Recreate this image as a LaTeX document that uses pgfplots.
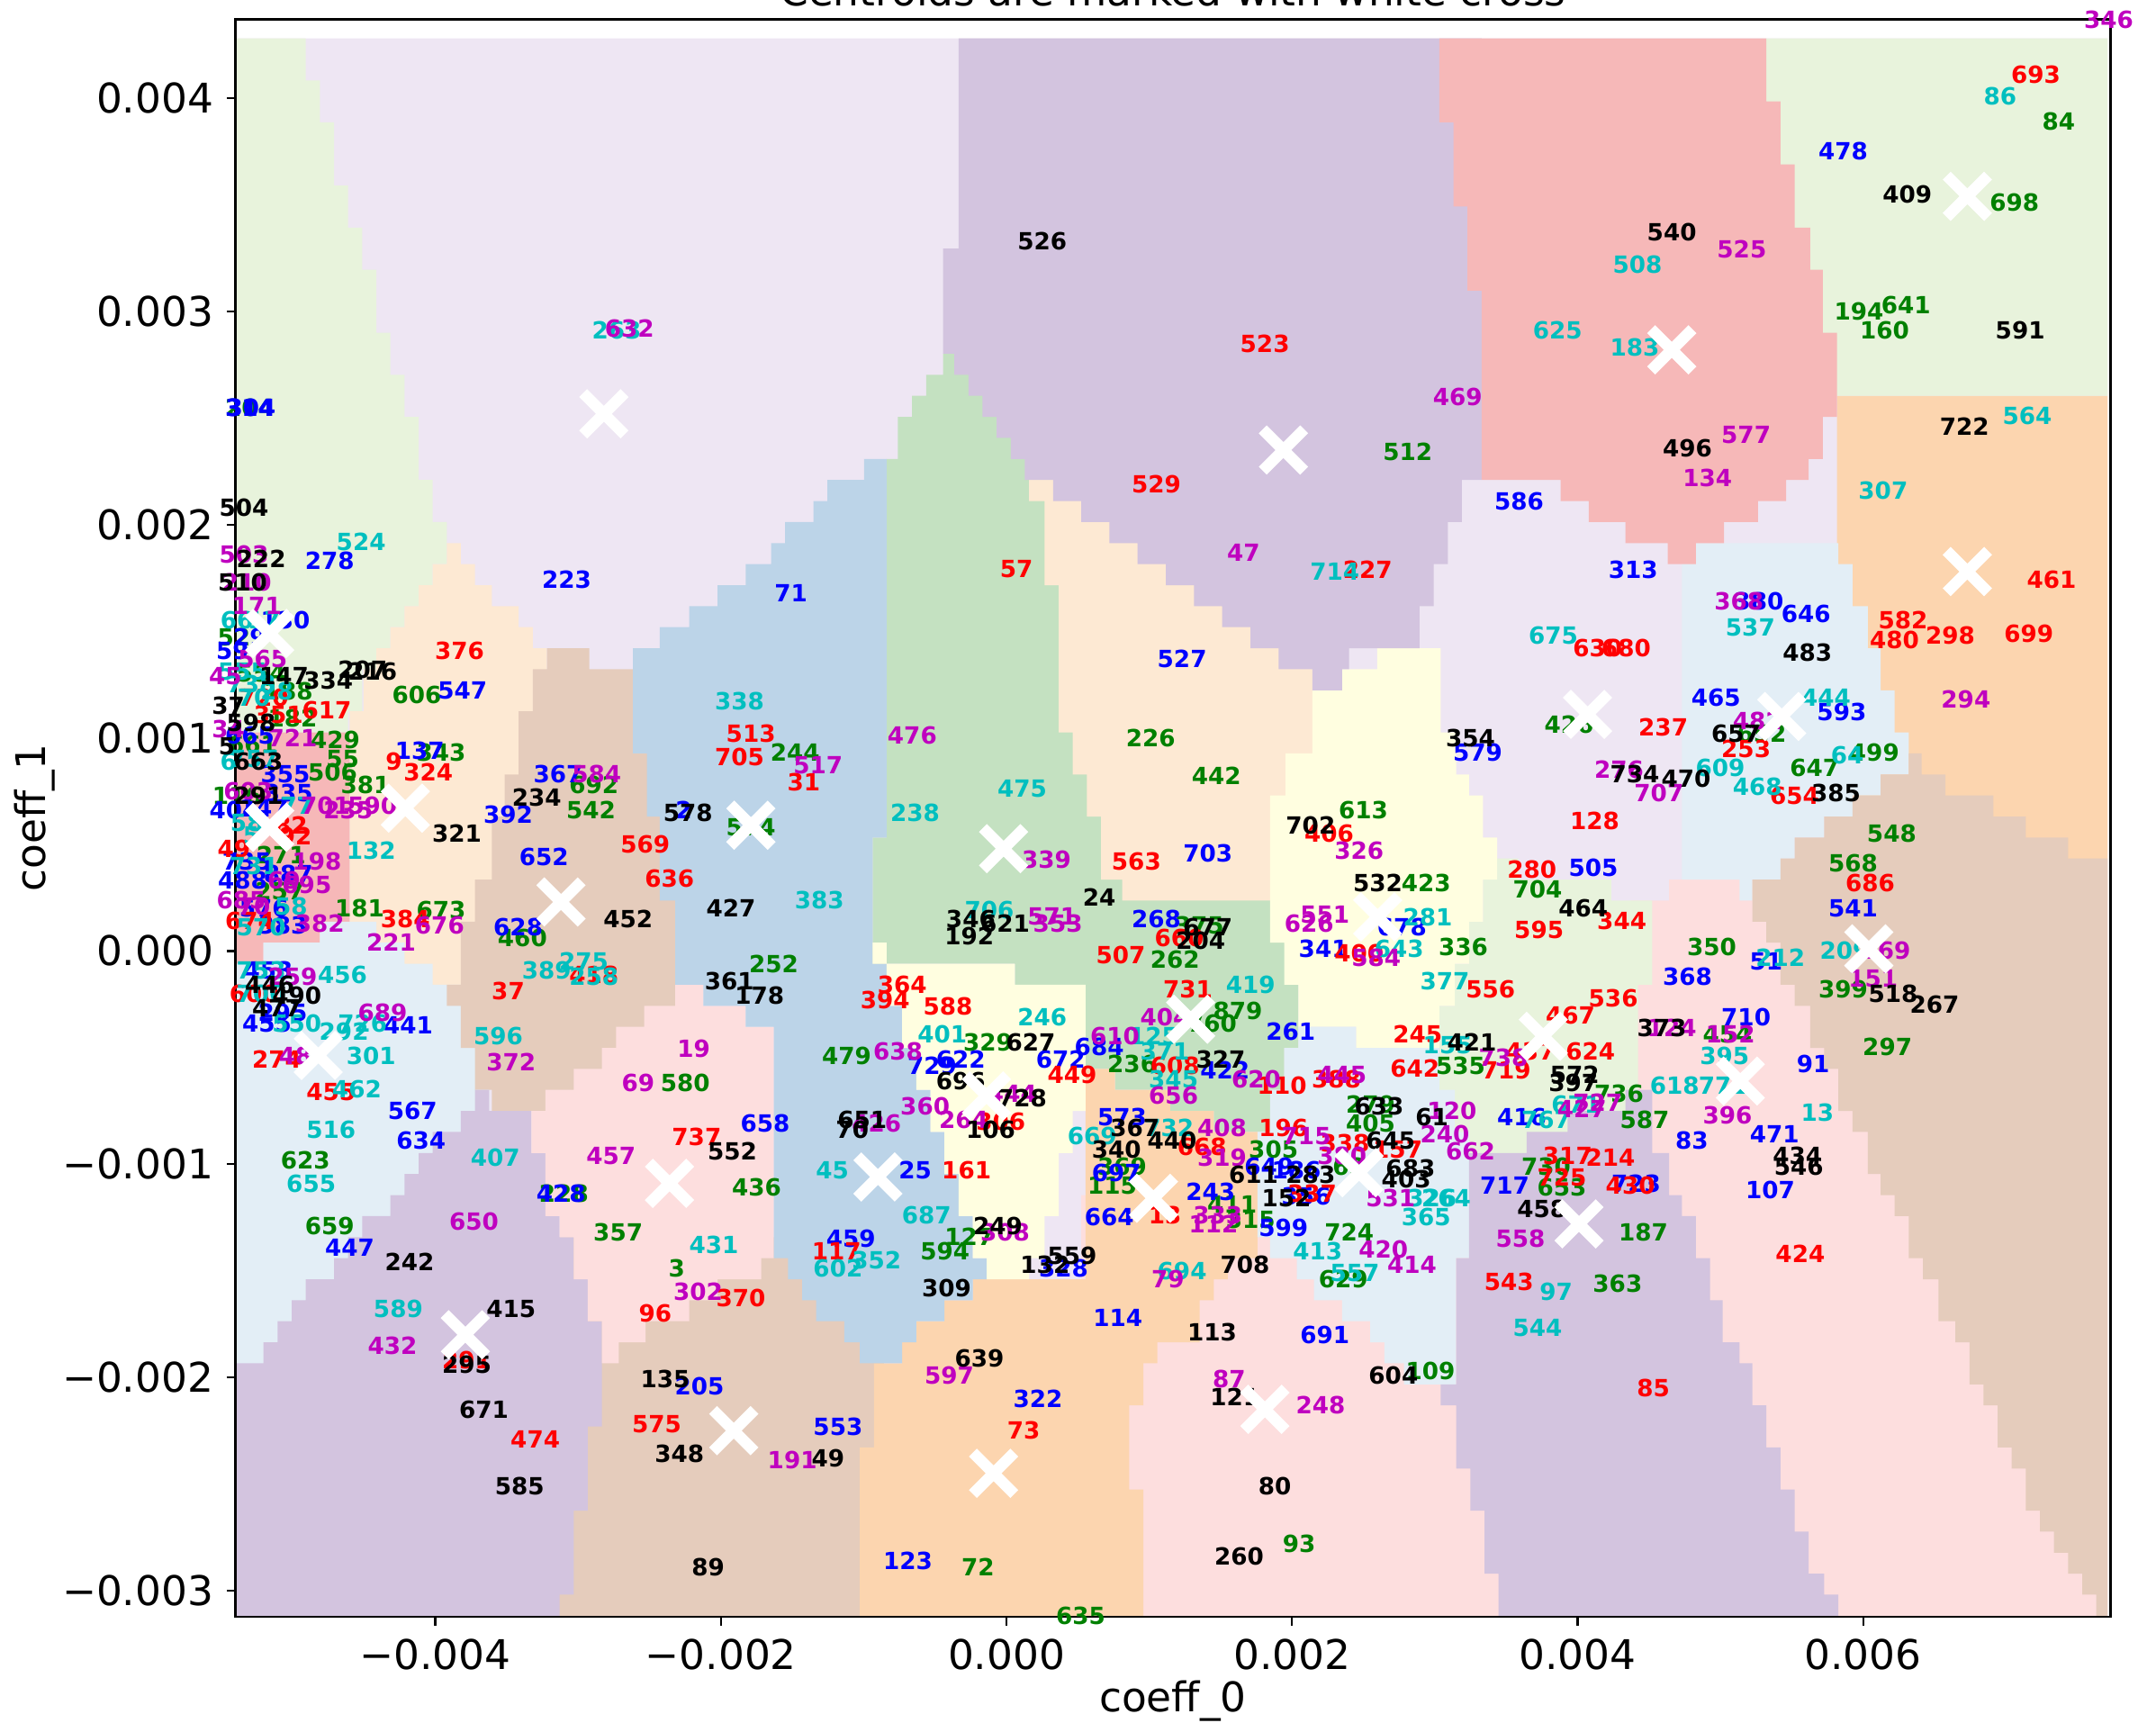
\documentclass[border=0pt]{standalone}
\usepackage{fontspec}
\setmainfont{DejaVu Sans}
\usepackage{pgfplots}
\pgfplotsset{compat=1.18}

\definecolor{cgreen}{HTML}{E8F3DC}
\definecolor{clav}{HTML}{EEE6F3}
\definecolor{cpurple}{HTML}{D3C4DF}
\definecolor{cred}{HTML}{F6B8B8}
\definecolor{cpeach}{HTML}{FCD5AF}
\definecolor{ctan}{HTML}{E5CCBC}
\definecolor{cblue}{HTML}{BCD4E8}
\definecolor{cdgreen}{HTML}{C4E1C1}
\definecolor{ccream}{HTML}{FFFEE0}
\definecolor{cpale}{HTML}{E3EEF6}
\definecolor{clpeach}{HTML}{FDE9D3}
\definecolor{cpink}{HTML}{FDDEDE}
\definecolor{lc}{rgb}{0,0.75,0.75}
\definecolor{lm}{rgb}{0.75,0,0.75}
\definecolor{lg}{rgb}{0,0.5,0}

\newcommand{\labfont}{\fontsize{6.3pt}{6.3pt}\selectfont\bfseries}
\newcommand{\tickfont}{\fontsize{10.9pt}{12pt}\selectfont}

\pgfplotsset{
  reg/.style={const plot,no markers,draw=none,fill=#1,forget plot},
  lab/.style={draw=none,mark=none,forget plot,point meta=explicit symbolic,
    nodes near coords={\pgfplotspointmeta},
    nodes near coords style={anchor=center,inner sep=0pt,text=#1,font=\labfont}},
}

\begin{document}
\begin{tikzpicture}
\path[use as bounding box] (-62.74pt,-28.32pt) rectangle ++(574.8pt,459.36pt);

% decision regions, traced in mesh cells (column, row from the top), painted back to front
\begin{axis}[hide axis,scale only axis,width=499.9pt,height=425.8pt,
  xmin=0,xmax=133,ymin=-0.886,ymax=75.05,y dir=reverse,clip=false]
\addplot[reg=clav] coordinates {(0,0)(132.8,75.05)(0,0)};
\addplot[reg=cpink] coordinates {(101.7,40)(132.8,75.05)(60,55)(99,41)(101.7,40)};
\addplot[reg=cgreen] coordinates {(0,0)(5,2)(6,4)(7,7)(8,9)(9,11)(10,14)(11,16)(12,18)(13,21)(14,23)(15,25)(14,26)(13,27)(12,28)(11,29)(10,30)(9,32)(8,33)(0,0)};
\addplot[reg=clpeach] coordinates {(15,24)(16,25)(17,26)(18.2,27)(20.1,28)(21.1,29)(22.1,45)(8.1,32)(9.1,30)(10,29)(11,28)(12,27)(13,26)(14,25)(15,24)};
\addplot[reg=cred] coordinates {(0,33)(8.1,42)(6,43)(2,44)(0,33)};
\addplot[reg=cpale] coordinates {(0,44)(2,43)(6,42)(10,43)(12,44)(14,45)(18,64)(0,44)};
\addplot[reg=ctan] coordinates {(22.1,29)(25.1,30)(31.2,51)(18.2,50)(17,48)(16,46)(15,45)(16,42)(17,40)(18.2,37)(19.1,35)(20.1,32)(21.1,30)(22.1,29)};
\addplot[reg=ctan] coordinates {(20,57)(46,75.05)(20,57)};
\addplot[reg=cpurple] coordinates {(0,63)(2,62)(3,61)(4,60)(5,59)(7,58)(8,57)(9,56)(11,55)(12,54)(13,53)(14,52)(16,51)(17,50)(18,51)(21,53)(22,56)(23,57)(24,59)(25,61)(26,66)(25,70)(24,74)(23,75.05)(0,63)};
\addplot[reg=cpink] coordinates {(31.2,45)(33.2,46)(36.2,47)(38.2,58)(37.3,59)(34.2,60)(32.2,61)(29.1,62)(27.2,63)(26,61)(25,59)(24,57)(23,56)(22,53)(21,51)(22,50)(24,49)(26,48)(27,47)(29,46)(31.2,45)};
\addplot[reg=cdgreen] coordinates {(46.2,20)(47,18)(48,17)(49,16)(50.2,15)(58,22)(75.4,48)(74.4,50)(73.4,52)(69.4,51)(66.3,50)(62.4,49)(60.3,45)(55.3,44)(45.2,38)(46.2,20)};
\addplot[reg=clpeach] coordinates {(56.3,20)(76.4,41)(62.9,40)(61.4,37)(60.4,35)(59.4,33)(58.4,26)(57.4,22)(56.3,20)};
\addplot[reg=cpeach] coordinates {(60.3,49)(62.4,50)(66.3,51)(69.4,52)(72.5,58)(70.4,59)(69.4,60)(68.4,62)(65.4,63)(64.4,65)(63.4,69)(64.4,75.05)(44.3,67)(45.3,63)(47.3,62)(48.3,61)(50.3,60)(52.3,59)(60.3,49)};
\addplot[reg=cblue] coordinates {(28.2,29)(30.1,28)(32.2,27)(34.2,26)(36.2,25)(38,24)(39,23)(41,22)(42,21)(44.6,20)(46.2,38)(45.2,44)(46.2,46)(47.3,48)(48.3,50)(49.3,52)(50.3,54)(51.3,56)(52.3,58)(53.3,59)(52.3,60)(50.3,61)(48.3,62)(47.3,63)(44.3,62)(43.2,61)(41.2,60)(40.2,59)(39.2,58)(38.2,47)(36.2,46)(33.2,45)(31.2,41)(30.1,37)(29.2,34)(28.2,29)};
\addplot[reg=ccream] coordinates {(46.2,44)(55.3,45)(60.3,51)(59.4,53)(58.4,56)(57.4,58)(56.3,59)(53.3,58)(52.3,56)(51.3,54)(50.3,52)(49.3,50)(48.3,48)(47.3,46)(46.2,44)};
\addplot[reg=ccream] coordinates {(45.2,43)(46.2,44)(45.2,43)};
\addplot[reg=cgreen] coordinates {(89.5,39)(91,40)(97.6,41)(100.5,45)(99.5,54)(85.4,46)(86.5,44)(87.5,42)(88.5,40)(89.5,39)};
\addplot[reg=ccream] coordinates {(73.4,36)(74.5,34)(76.4,31)(78.5,30)(81,29)(85.5,33)(86.6,35)(87.5,36)(88.5,38)(89.5,40)(88.5,42)(87.5,44)(86.5,46)(85.4,48)(79.5,47)(75.4,45)(74.4,43)(73.4,36)};
\addplot[reg=cpale] coordinates {(75.4,47)(79.5,48)(85.4,50)(86.5,52)(87.5,58)(86.6,64)(82.9,63)(81.5,62)(80.5,61)(78.5,60)(76.5,59)(75.3,58)(73.4,57)(72.5,52)(73.4,50)(74.4,48)(75.4,47)};
\addplot[reg=cpurple] coordinates {(87.5,53)(91.6,52)(94.5,51)(98.6,50)(100.5,53)(101.7,55)(102.6,56)(103.6,58)(104.6,60)(105.5,62)(106.7,63)(107.6,65)(108.6,67)(109.6,69)(110.6,71)(111.6,73)(112.7,74)(113.7,75.05)(89.6,73)(88.6,70)(87.6,68)(86.6,65)(85.5,64)(86.6,58)(87.5,53)};
\addplot[reg=cpeach] coordinates {(113.6,17)(132.8,41)(113.6,17)};
\addplot[reg=cgreen] coordinates {(108.6,0)(132.8,17)(108.6,0)};
\addplot[reg=cpale] coordinates {(102.6,24)(113.7,25)(114.7,27)(115.8,29)(116.7,31)(117.7,33)(118.7,35)(116.7,36)(114.7,37)(112.7,38)(110.6,39)(109.6,40)(107.6,41)(106.7,40)(102.6,24)};
\addplot[reg=ctan] coordinates {(107.6,40)(109.6,39)(110.6,38)(112.7,37)(114.7,36)(116.7,35)(118.7,34)(119.6,35)(121.3,36)(124.7,37)(127,38)(130,39)(132.8,75.05)(132,74)(131,73)(130,72)(129,71)(128,70)(127,68)(126,67)(125,65)(124,64)(123,62)(122,61)(120.8,59)(119.7,58)(118.7,56)(117.7,55)(116.7,54)(115.8,52)(114.7,51)(113.7,49)(112.7,48)(111.7,46)(110.6,45)(109.6,43)(108.6,42)(107.6,40)};
\addplot[reg=cpurple] coordinates {(51.3,0)(88.4,21)(87,23)(86,25)(85,27)(84,29)(79,30)(78.5,31)(76.4,30)(74,29)(72,28)(70,27)(68,26)(66,25)(64,24)(62,23)(60,22)(58,21)(56,20)(55,19)(54,18)(53,17)(52,16)(51,15)(50.2,10)(51.3,0)};
\addplot[reg=cred] coordinates {(85.4,0)(108.6,3)(109.6,6)(110.6,9)(111.7,11)(112.6,14)(113.6,18)(112.6,20)(111.6,21)(110,22)(108,23)(105.6,24)(103.6,25)(101.6,24)(98.6,23)(96,22)(94,21)(88.4,12)(87.4,8)(86.4,4)(85.4,0)};
\end{axis}

% coordinates in units of 0.001
\begin{axis}[scale only axis,width=499.9pt,height=425.8pt,clip=false,
  xmin=-5.401,xmax=7.732,ymin=-3.123,ymax=4.369,
  axis line style={line width=0.7pt},
  tick align=outside,tickpos=left,tick style={line width=0.55pt,black},
  major tick length=2.3pt,
  xtick={-4,-2,0,2,4,6},ytick={-3,-2,-1,0,1,2,3,4},
  xticklabels={−0.004,−0.002,0.000,0.002,0.004,0.006},
  yticklabels={−0.003,−0.002,−0.001,0.000,0.001,0.002,0.003,0.004},
  ticklabel style={font=\tickfont},
  xlabel={coeff\_0},ylabel={coeff\_1},
  xlabel style={font=\tickfont,at={(axis description cs:0.5,-0.0596)},anchor=base},
  ylabel style={font=\tickfont,at={(axis description cs:-0.1014,0.5)},anchor=base},
  every axis title shift=0pt,
  title={Centroids are marked with white cross},
  title style={font=\tickfont,at={(axis description cs:0.5,1.0085)},anchor=base},
]
\addplot[lab=lg] coordinates {(-5.30,2.55)[204](-5.41,1.47)[52](-5.22,1.30)[554](-5.03,1.22)[188](-4.13,1.20)[606](-4.70,0.99)[429](-4.65,0.90)[55](-4.72,0.84)[506](-4.49,0.78)[381](-3.96,0.93)[343](-4.53,0.20)[181](-3.96,0.19)[673](-3.39,0.06)[460](-2.89,0.78)[692](-2.91,0.66)[542](-5.28,0.97)[661](-5.00,1.09)[182](-5.08,0.45)[271](-5.39,0.73)[116](-5.09,0.28)[257](-1.79,0.58)[574](-1.48,0.93)[244](-1.63,-0.06)[252](-1.12,-0.49)[479](-0.13,-0.43)[329](-0.26,-1.34)[127](-0.43,-1.41)[594](-1.75,-1.11)[436](-2.25,-0.62)[580](-2.72,-1.32)[357](-2.31,-1.49)[3](-3.10,-1.14)[228](0.74,-1.10)[115](0.81,-1.01)[369](0.88,-0.53)[236](1.18,-0.04)[262](1.35,0.12)[375](1.62,-0.28)[879](1.44,-0.34)[760](1.87,-0.93)[305](1.58,-1.19)[411](1.71,-1.26)[315](2.40,-1.32)[724](2.36,-1.54)[629](2.97,-1.97)[109](2.55,-0.81)[405](2.55,-0.72)[279](2.40,-1.01)[63](3.78,-1.01)[730](3.89,-1.11)[653](3.18,-0.54)[535](3.20,0.02)[336](3.72,0.29)[704](2.94,0.32)[423](2.50,0.66)[613](4.29,-0.67)[736](4.47,-0.79)[587](4.46,-1.32)[187](4.28,-1.56)[363](4.94,0.02)[350](5.05,-0.39)[454](6.17,-0.45)[297](5.86,-0.18)[399](5.93,0.41)[568](6.20,0.55)[548](5.66,0.86)[647](6.08,0.93)[499](5.29,1.02)[652](3.94,1.06)[426](5.97,3.00)[194](6.30,3.03)[641](6.15,2.91)[160](7.06,3.51)[698](7.37,3.89)[84](2.81,2.34)[512](1.01,1.00)[226](1.47,0.82)[442](-4.91,-0.98)[623](-4.74,-1.29)[659](-0.20,-2.89)[72](2.05,-2.78)[93](0.52,-3.12)[635]};
\addplot[lab=blue] coordinates {(-5.30,2.55)[314](-5.29,2.55)[304](-4.74,1.83)[278](-3.08,1.74)[223](-1.51,1.68)[71](-3.81,1.22)[547](-4.11,0.94)[137](-3.14,0.83)[367](-3.49,0.64)[392](-3.24,0.44)[652](-2.26,0.66)[2](-3.42,0.11)[628](1.41,0.46)[703](1.05,0.15)[268](2.22,0.01)[341](2.77,0.11)[678](1.23,1.37)[527](3.59,2.11)[586](4.39,1.79)[313](5.86,3.75)[478](5.27,1.64)[380](5.60,1.58)[646](3.30,0.93)[579](4.97,1.19)[465](5.85,1.12)[593](4.11,0.39)[505](5.93,0.20)[541](5.32,-0.05)[51](4.77,-0.12)[368](5.18,-0.31)[710](5.65,-0.53)[91](4.80,-0.89)[83](5.38,-0.86)[471](5.35,-1.12)[107](3.61,-0.78)[416](3.49,-1.10)[717](4.41,-1.09)[723](1.99,-0.38)[261](0.38,-0.51)[672](0.65,-0.45)[684](-0.52,-0.54)[729](-0.32,-0.51)[622](1.53,-0.56)[422](0.81,-0.78)[573](-1.69,-0.81)[658](-4.16,-0.75)[567](-4.10,-0.89)[634](-4.19,-0.35)[441](-5.17,-0.09)[453](-5.07,-0.29)[295](-1.09,-1.35)[459](-0.64,-1.03)[25](0.72,-1.25)[664](1.43,-1.13)[243](1.94,-1.30)[599](1.84,-1.01)[649](2.03,-1.03)[186](0.77,-1.04)[697](2.10,-1.15)[356](0.40,-1.49)[328](0.78,-1.72)[114](2.23,-1.80)[691](0.22,-2.10)[322](-2.15,-2.04)[205](-1.18,-2.23)[553](-0.69,-2.86)[123](-4.60,-1.39)[447](-5.05,1.55)[130](-5.42,1.41)[59](-5.30,1.47)[29](-5.05,0.83)[355](-5.03,0.74)[335](-5.41,0.66)[404](-5.20,0.67)[147](-5.30,1.01)[665](-5.32,0.42)[735](-5.35,0.33)[488](-5.03,0.36)[887](-5.20,0.20)[576](-5.07,0.12)[383](-5.18,-0.34)[455](-3.12,-1.14)[428]};
\addplot[lab=red] coordinates {(-3.83,1.41)[376](-4.76,1.13)[617](-5.10,1.11)[351](-4.29,0.89)[9](-4.05,0.84)[324](-5.01,0.59)[82](-4.98,0.54)[92](-1.79,1.02)[513](-1.87,0.91)[705](-1.42,0.79)[31](-2.53,0.50)[569](-2.36,0.34)[636](-3.49,-0.19)[37](-4.21,0.15)[384](-2.89,-0.11)[418](-0.73,-0.16)[364](-0.85,-0.23)[394](-0.41,-0.26)[588](0.80,-0.02)[507](0.91,0.42)[563](1.21,0.06)[660](1.27,-0.18)[731](1.18,-0.54)[608](0.46,-0.58)[449](-0.04,-0.80)[306](-0.28,-1.03)[161](1.11,-1.24)[13](1.37,-0.92)[668](1.93,-0.63)[110](1.94,-0.83)[196](2.31,-0.60)[388](2.88,-0.39)[245](2.86,-0.55)[642](3.39,-0.18)[556](3.73,0.10)[595](4.31,0.14)[344](4.25,-0.22)[536](3.95,-0.30)[467](4.09,-0.47)[624](3.50,-0.56)[719](3.67,-0.47)[437](3.68,0.38)[280](4.12,0.61)[128](5.52,0.73)[654](5.18,0.95)[253](4.60,1.05)[237](4.14,1.42)[630](4.34,1.42)[680](6.22,1.46)[480](6.28,1.55)[582](6.61,1.48)[298](7.16,1.49)[699](7.32,1.74)[461](7.21,4.11)[693](2.53,1.79)[227](0.07,1.79)[57](1.05,2.19)[529](1.81,2.85)[523](2.26,0.55)[406](6.05,0.32)[686](2.47,-0.01)[400](3.93,-0.96)[317](4.23,-0.97)[214](3.89,-1.06)[725](4.37,-1.10)[430](2.14,-1.14)[337](2.37,-0.90)[338](2.74,-0.93)[157](3.52,-1.55)[543](4.53,-2.05)[85](5.56,-1.42)[424](-1.19,-1.41)[117](-1.86,-1.63)[370](-2.46,-1.70)[96](-2.17,-0.87)[737](-4.73,-0.66)[455](-5.11,-0.51)[274](-5.27,-0.20)[600](-5.30,0.14)[674](-5.41,0.48)[49](-5.20,1.19)[720](-3.30,-2.29)[474](-2.45,-2.22)[575](-3.78,-1.92)[291](0.12,-2.25)[73]};
\addplot[lab=lc] coordinates {(-4.52,1.92)[524](-2.73,2.91)[263](-1.87,1.17)[338](-0.64,0.65)[238](-1.31,0.24)[383](0.11,0.76)[475](-0.12,0.19)[706](-0.45,-0.39)[401](0.25,-0.31)[246](-4.45,0.47)[132](-4.65,-0.11)[456](-3.56,-0.40)[596](-3.22,-0.09)[389](-2.96,-0.05)[275](-2.89,-0.12)[258](-3.58,-0.97)[407](-4.73,-0.84)[516](-4.87,-1.09)[655](-4.55,-0.65)[462](-4.45,-0.49)[301](-4.64,-0.38)[292](-4.51,-0.34)[726](-4.26,-1.68)[589](-2.05,-1.38)[431](-1.22,-1.03)[45](-1.18,-1.49)[602](-0.91,-1.45)[352](-0.56,-1.24)[687](0.60,-0.87)[669](1.23,-1.50)[694](1.14,-0.83)[732](1.17,-0.60)[345](1.11,-0.47)[371](1.03,-0.40)[125](1.71,-0.16)[419](2.95,0.16)[281](2.75,0.01)[643](3.07,-0.14)[377](3.09,-0.44)[155](3.78,-0.79)[767](3.99,-0.72)[671](2.94,-1.25)[365](2.98,-1.16)[326](3.08,-1.16)[264](2.18,-1.41)[413](2.44,-1.51)[557](3.85,-1.60)[97](3.72,-1.77)[544](4.68,-0.63)[618](5.02,-0.63)[771](5.03,-0.49)[395](5.68,-0.76)[13](5.42,-0.03)[212](5.87,0.00)[209](5.00,0.86)[609](5.26,0.77)[468](5.89,0.92)[64](5.74,1.19)[444](5.21,1.52)[537](3.83,1.48)[675](6.14,2.16)[307](7.15,2.51)[564](6.96,4.01)[86](3.86,2.91)[625](4.42,3.22)[508](4.40,2.83)[183](2.30,1.78)[714](-5.39,1.55)[66](-5.20,1.55)[17](-5.35,1.31)[555](-5.29,1.25)[738](-5.27,1.19)[70](-5.11,1.22)[28](-5.45,0.89)[6](-5.27,0.90)[757](-4.97,0.68)[77](-5.32,0.60)[58](-5.29,0.54)[5](-5.27,0.40)[731](-5.01,0.21)[58](-5.22,0.11)[570](-5.22,-0.09)[753](-5.22,-0.20)[700](-4.97,-0.34)[550]};
\addplot[lab=lm] coordinates {(-2.64,2.92)[632](-5.34,1.86)[503](-5.32,1.73)[210](-5.25,1.62)[171](-5.21,1.37)[565](-5.47,1.29)[45](-5.00,1.00)[721](-5.31,0.75)[603](-5.45,1.04)[34](-4.77,0.68)[701](-4.61,0.66)[235](-4.44,0.68)[590](-2.87,0.83)[584](-1.32,0.87)[517](-0.66,1.01)[476](0.28,0.43)[339](-4.83,0.42)[198](-4.90,0.31)[695](-5.06,0.33)[69](-5.36,0.24)[685](-5.27,0.21)[70](-4.81,0.13)[382](-3.97,0.12)[676](-4.31,0.04)[221](-4.37,-0.29)[689](-5.00,-0.12)[259](-4.98,-0.49)[48](-3.47,-0.52)[372](-2.19,-0.46)[19](-2.58,-0.62)[69](-2.77,-0.96)[457](-3.73,-1.27)[650](-4.30,-1.85)[432](-2.16,-1.60)[302](-1.50,-2.39)[191](-0.40,-1.99)[597](-0.76,-0.47)[638](-0.57,-0.73)[360](-0.30,-0.79)[264](0.04,-0.67)[444](-0.91,-0.81)[426](0.76,-0.40)[610](1.11,-0.31)[404](0.32,0.16)[571](0.36,0.13)[353](1.17,-0.68)[656](1.51,-0.83)[408](1.51,-0.97)[319](2.10,-0.87)[715](2.35,-0.96)[380](1.75,-0.60)[620](2.35,-0.58)[445](1.48,-1.24)[333](1.45,-1.28)[112](3.12,-0.75)[120](3.07,-0.86)[240](3.25,-0.94)[662](2.69,-1.16)[531](2.64,-1.40)[420](2.84,-1.47)[414](3.60,-1.35)[558](1.13,-1.54)[79](-0.01,-1.32)[308](2.23,0.17)[551](2.12,0.13)[626](2.47,0.47)[326](2.59,-0.03)[584](3.48,-0.50)[738](4.14,-0.71)[727](4.03,-0.74)[427](1.66,1.87)[47](3.16,2.60)[469](4.91,2.22)[134](5.18,2.42)[577](5.15,3.29)[525](7.72,4.37)[346](6.72,1.18)[294](5.13,1.64)[368](4.29,0.85)[276](4.57,0.74)[707](5.26,1.08)[482](6.07,-0.13)[151](6.16,0.00)[169](5.05,-0.77)[396](5.07,-0.39)[152](4.66,-0.36)[124](2.20,-2.13)[248](1.56,-2.01)[87]};
\addplot[lab=black] coordinates {(0.25,3.33)[526](-5.34,2.08)[504](-5.22,1.84)[222](-5.35,1.73)[510](-5.06,1.29)[147](-4.75,1.27)[334](-4.51,1.32)[207](-4.44,1.31)[216](-5.45,1.15)[37](-5.29,1.07)[598](-5.46,0.96)[5](-5.24,0.89)[663](-5.24,0.73)[291](-3.85,0.55)[321](-3.29,0.72)[234](-2.23,0.65)[578](-1.93,0.20)[427](-2.65,0.15)[452](-1.94,-0.14)[361](-1.73,-0.21)[178](-0.25,0.15)[346](-0.01,0.13)[621](-0.26,0.07)[192](0.65,0.25)[24](1.41,0.11)[677](1.36,0.05)[204](0.17,-0.43)[627](-0.32,-0.61)[696](0.11,-0.69)[728](-0.11,-0.84)[106](-1.01,-0.79)[651](-1.08,-0.84)[70](-1.92,-0.94)[552](-0.06,-1.29)[249](0.27,-1.47)[132](0.46,-1.43)[559](-0.42,-1.58)[309](-0.19,-1.91)[639](1.44,-1.79)[113](1.67,-1.47)[708](2.71,-1.99)[604](1.60,-2.09)[121](1.88,-2.51)[80](1.63,-2.84)[260](-2.09,-2.89)[89](-3.41,-2.51)[585](-3.66,-2.15)[671](-3.78,-1.94)[295](-3.47,-1.68)[415](-4.18,-1.46)[242](-2.39,-2.01)[135](-2.29,-2.36)[348](-1.25,-2.38)[49](0.90,-0.83)[367](0.77,-0.93)[340](1.16,-0.89)[440](1.50,-0.51)[327](1.73,-1.05)[611](2.13,-1.05)[283](1.96,-1.16)[152](2.61,-0.73)[633](2.98,-0.78)[61](2.69,-0.89)[645](2.83,-1.02)[683](2.80,-1.07)[403](3.26,-0.43)[421](3.98,-0.58)[572](3.97,-0.62)[397](3.75,-1.21)[458](4.59,-0.36)[373](5.54,-0.96)[434](5.55,-1.01)[546](6.21,-0.20)[518](6.50,-0.25)[267](4.04,0.20)[464](2.60,0.32)[532](2.13,0.59)[702](5.81,0.74)[385](5.61,1.40)[483](4.76,0.81)[470](4.40,0.83)[734](5.11,1.02)[657](3.25,1.00)[354](4.77,2.36)[496](4.66,3.37)[540](6.71,2.46)[722](6.31,3.55)[409](7.10,2.91)[591](-4.97,-0.21)[490](-5.16,-0.16)[446](-5.11,-0.27)[477]};
% centroids
\addplot[only marks,mark=x,mark size=7.8pt,mark options={white,line width=3pt},forget plot] coordinates {(-2.82,2.52)(-1.79,0.59)(-3.12,0.23)(-0.02,0.48)(-5.16,1.49)(-5.16,0.58)(-4.21,0.67)(-4.82,-0.49)(-3.79,-1.80)(-1.91,-2.25)(-2.36,-1.09)(-0.90,-1.06)(-0.14,-0.68)(1.03,-1.16)(1.29,-0.32)(2.47,-1.04)(2.60,0.16)(3.76,-0.40)(4.01,-1.28)(4.07,1.11)(5.43,1.10)(6.04,0.01)(5.14,-0.61)(-0.09,-2.45)(1.81,-2.15)(6.73,3.54)(1.94,2.35)(4.66,2.82)(6.73,1.78)};
\end{axis}
\end{tikzpicture}
\end{document}
